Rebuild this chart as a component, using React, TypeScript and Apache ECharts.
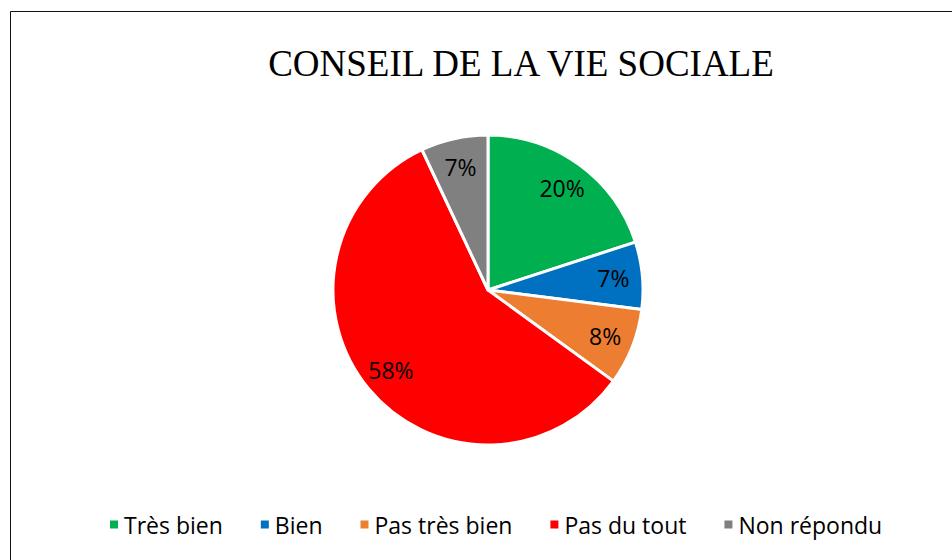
import React, { useEffect, useRef } from "react";
import * as echarts from "echarts";

const categories = ["Très bien", "Bien", "Pas très bien", "Pas du tout", "Non répondu"];
const values = [20, 7, 8, 58, 7];
const colors = ["#00B050", "#0070C0", "#ED7D31", "#FF0000", "#808080"];
const titleText = "CONSEIL DE LA VIE SOCIALE";

export default function App() {
  const ref = useRef<HTMLDivElement>(null);
  useEffect(() => {
    if (!ref.current) return;
    const chart = echarts.init(ref.current, undefined, { renderer: "svg" });
    const data = categories.map((name, i) => ({ name, value: values[i], itemStyle: { color: colors[i] } }));
    const sans = "'Open Sans', 'Noto Sans', sans-serif";
    chart.setOption({
      animation: false,
      backgroundColor: "#ffffff",
      title: {
        text: titleText,
        left: 516,
        top: 40,
        textAlign: "center",
        textStyle: { fontFamily: "'Liberation Serif', 'Times New Roman', serif", fontSize: 37, fontWeight: "normal", color: "#000000" },
      },
      legend: {
        data: categories,
        bottom: 19,
        left: 103,
        icon: "rect",
        itemWidth: 10,
        itemHeight: 10,
        itemGap: 36,
        textStyle: { fontFamily: sans, fontSize: 23, color: "#000000", padding: [0, 0, 0, 0] },
      },
      graphic: [
        {
          type: "rect",
          shape: { x: 10.5, y: 11.5, width: 1000, height: 600 },
          style: { fill: "none", stroke: "#111111", lineWidth: 1 },
          silent: true,
          z: 100,
        },
      ],
      series: [
        {
          type: "pie",
          center: [488, 290],
          radius: [0, 155],
          startAngle: 90,
          clockwise: true,
          data,
          itemStyle: { borderColor: "#ffffff", borderWidth: 3 },
          label: { show: false },
          labelLine: { show: false },
          emphasis: { disabled: true },
        },
        {
          type: "pie",
          center: [488, 290],
          radius: [91, 155],
          startAngle: 90,
          clockwise: true,
          silent: true,
          legendHoverLink: false,
          data: categories.map((name, i) => ({ name, value: values[i] })),
          itemStyle: { color: "rgba(0,0,0,0)", borderWidth: 0 },
          label: {
            show: true,
            position: "inside",
            formatter: "{c}%",
            fontFamily: sans,
            fontSize: 23,
            color: "#000000",
          },
          labelLine: { show: false },
          emphasis: { disabled: true },
        },
      ],
    });
    return () => chart.dispose();
  }, []);
  return <div ref={ref} style={{ position: "fixed", left: 0, top: 0, width: 952, height: 560 }} />;
}
